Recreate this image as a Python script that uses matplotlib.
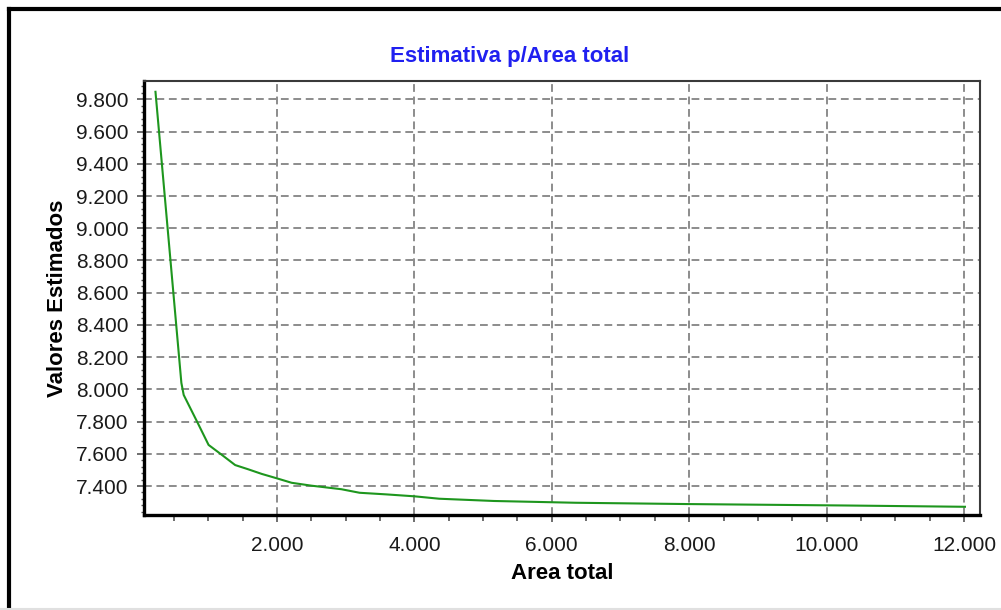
import numpy as np
import matplotlib
matplotlib.use("Agg")
import matplotlib.pyplot as plt
from matplotlib.ticker import MultipleLocator, FuncFormatter
from matplotlib.lines import Line2D

plt.rcParams['font.family'] = ['Liberation Sans', 'DejaVu Sans']

# values
area_total = [231, 608, 642, 836, 1004, 1198, 1391, 1579, 1778, 1995, 2213, 2502,
              2937, 3202, 3589, 4000, 4362, 5159, 6343, 7956, 10275, 12014]
valores_estimados = [9.847, 8.040, 7.965, 7.800, 7.655, 7.593, 7.530, 7.504, 7.475,
                     7.448, 7.420, 7.402, 7.380, 7.358, 7.348, 7.336, 7.321, 7.307,
                     7.296, 7.288, 7.279, 7.271]

title = "Estimativa p/Area total"
x_label = "Area total"
y_label = "Valores Estimados"

W, H = 1001, 610
fig = plt.figure(figsize=(W / 100, H / 100), dpi=100)
ax = fig.add_axes([144 / W, 1 - 515 / H, (980 - 144) / W, (515 - 81) / H])

ax.plot(area_total, valores_estimados, color='#1e961e', lw=1.5, zorder=3)

ax.set_xlim(64, 12233)
ax.set_ylim(7.22, 9.914)

ax.xaxis.set_major_locator(MultipleLocator(2000))
ax.xaxis.set_minor_locator(MultipleLocator(500))
ax.yaxis.set_major_locator(MultipleLocator(0.2))
ax.yaxis.set_minor_locator(MultipleLocator(0.04))
ax.xaxis.set_major_formatter(FuncFormatter(lambda v, p: f"{int(round(v)):,}".replace(",", ".")))
ax.yaxis.set_major_formatter(FuncFormatter(lambda v, p: f"{v:.3f}"))

ax.grid(True, which='major', color='#8c8c8c', lw=1.4, linestyle=(0, (4, 2.4)))
ax.tick_params(which='major', direction='out', length=5, width=1.2, color='#555555',
               labelsize=15, labelcolor='#1a1a1a')
ax.tick_params(axis='x', which='major', pad=10)
ax.tick_params(axis='y', which='major', pad=6)
ax.tick_params(axis='x', which='minor', direction='out', length=4, width=1.2, color='#555555')
ax.tick_params(axis='y', which='minor', direction='out', length=2.5, width=1, color='#555555')

for s in ('left', 'bottom'):
    ax.spines[s].set_linewidth(2.4)
    ax.spines[s].set_color('black')
for s in ('top', 'right'):
    ax.spines[s].set_linewidth(1.5)
    ax.spines[s].set_color('#3a3a3a')

# title is not centred on the axes in the original, sits a bit left
ax.set_title(title, color='#2020f0', fontsize=16, fontweight='bold', pad=14,
             x=(510 - 144) / (980 - 144))
ax.set_xlabel(x_label, fontsize=16, fontweight='bold', labelpad=6)
ax.set_ylabel(y_label, fontsize=16, fontweight='bold', labelpad=6)

# outer frame (top and left edges visible)
fig.add_artist(Line2D([9 / W, 1], [1 - 9 / H, 1 - 9 / H], transform=fig.transFigure,
                      color='black', lw=3))
fig.add_artist(Line2D([9 / W, 9 / W], [0, 1 - 9 / H], transform=fig.transFigure,
                      color='black', lw=3))
fig.add_artist(Line2D([0, 1], [0.8 / H, 0.8 / H], transform=fig.transFigure,
                      color='#e0e0e0', lw=1.5))

fig.savefig("out.png", dpi=100)
